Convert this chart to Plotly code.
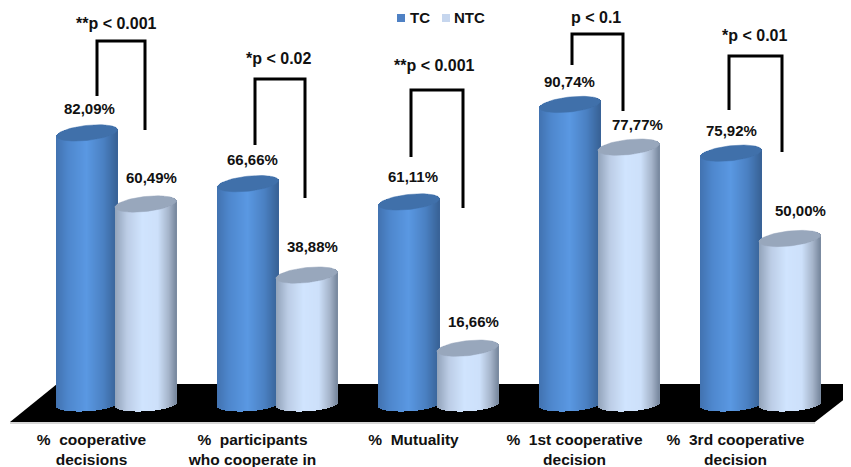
import numpy as np
import plotly.graph_objects as go

categories = ["%  cooperative<br>decisions", "%  participants<br>who cooperate in", "%  Mutuality",
              "%  1st cooperative<br>decision", "%  3rd cooperative<br>decision"]
tc_values = [82.09, 66.66, 61.11, 90.74, 75.92]
ntc_values = [60.49, 38.88, 16.66, 77.77, 50.00]
tc_labels = ["82,09%", "66,66%", "61,11%", "90,74%", "75,92%"]
ntc_labels = ["60,49%", "38,88%", "16,66%", "77,77%", "50,00%"]
p_labels = ["**p < 0.001", "*p < 0.02", "**p < 0.001", "p < 0.1", "*p < 0.01"]

# The page has an 8px body margin, so the figure fills the window from (8, 8)
PAGE = 8
WIN_W, WIN_H = 851, 467
W, H = WIN_W - PAGE, WIN_H - PAGE
PLOT_BOTTOM = 423
PX_PER_CAT = 161.0
X0 = 91.5
Y_ZERO = 404.5
PX_PER_UNIT = 3.29
FONT = "Liberation Sans"
x_range = [(PAGE - X0) / PX_PER_CAT, (WIN_W - X0) / PX_PER_CAT]
y_range = [(Y_ZERO - PLOT_BOTTOM) / PX_PER_UNIT, (Y_ZERO - PAGE) / PX_PER_UNIT]

HALF_W = 30.5
ELL_H = 7.5
TILT = 3.2
TOP_LIFT = 1.5


def lerp_colors(stops, t):
    ts = [s[0] for s in stops]
    out = [np.interp(t, ts, [s[1][k] for s in stops]) for k in range(3)]
    return "rgb(%d,%d,%d)" % tuple(int(round(v)) for v in out)


tc_stops = [(0, (66, 114, 176)), (0.2, (78, 135, 205)), (0.5, (90, 152, 226)), (0.78, (74, 128, 194)), (1, (56, 98, 150))]
ntc_stops = [(0, (146, 163, 186)), (0.2, (188, 205, 230)), (0.45, (208, 228, 254)), (0.7, (205, 224, 250)),
             (0.88, (165, 180, 202)), (1, (120, 136, 158))]
tc_top_stops = [(0, (70, 118, 178)), (0.5, (64, 112, 170)), (1, (56, 98, 150))]
ntc_top_stops = [(0, (160, 174, 194)), (0.5, (152, 167, 188)), (1, (138, 153, 174))]


def cylinder_traces(values, center_px, stops, top_stops, name):
    n = int(2 * HALF_W)
    xs, bases, ys, offs, cols = [], [], [], [], []
    tx, tb, ty, to, tc = [], [], [], [], []
    for i, v in enumerate(values):
        for k in range(n):
            left = -HALF_W + k
            t = max(-1, min(1, (left + 0.5) / HALF_W))
            s = np.sqrt(1 - t * t)
            bottom_px = ELL_H * 0.9 * s - TILT * 0.6 * t
            base = -bottom_px / PX_PER_UNIT
            mid = v + (TOP_LIFT + TILT * t) / PX_PER_UNIT
            xs.append(i)
            bases.append(base)
            ys.append(mid - base)
            offs.append((center_px + left) / PX_PER_CAT)
            cols.append(lerp_colors(stops, (k + 0.5) / n))
            half = (ELL_H - 0.6) * s / PX_PER_UNIT
            if half > 0.05:
                tx.append(i)
                tb.append(mid - half)
                ty.append(2 * half)
                to.append((center_px + left) / PX_PER_CAT)
                tc.append(lerp_colors(top_stops, (k + 0.5) / n))
    body = go.Bar(x=xs, y=ys, base=bases, width=[1.6 / PX_PER_CAT] * len(xs), offset=offs, name=name,
                  marker=dict(color=cols, line=dict(width=0)), showlegend=False, hoverinfo="skip")
    traces = [body]
    a = np.linspace(0, 2 * np.pi, 73)
    top_color = lerp_colors(top_stops, 0.5)
    for i, v in enumerate(values):
        ex = HALF_W * np.cos(a)
        ey = ELL_H * np.sin(a) + TILT * np.cos(a) + TOP_LIFT
        traces.append(go.Scatter(x=i + (center_px + ex) / PX_PER_CAT, y=v + ey / PX_PER_UNIT, mode="lines",
                                 fill="toself", fillcolor=top_color, line=dict(color=top_color, width=0.5),
                                 showlegend=False, hoverinfo="skip"))
    traces.append(go.Bar(x=tx, y=ty, base=tb, width=[1.6 / PX_PER_CAT] * len(tx), offset=to, name=name + " top",
                         marker=dict(color=tc, line=dict(width=0)), showlegend=False, hoverinfo="skip"))
    return traces


fig = go.Figure()
# Each series gets its own overlaying axes so NTC cylinders are drawn over TC cylinders
for t in cylinder_traces(tc_values, -4.5, tc_stops, tc_top_stops, "TC"):
    t.update(xaxis="x", yaxis="y")
    fig.add_trace(t)
for t in cylinder_traces(ntc_values, 54.0, ntc_stops, ntc_top_stops, "NTC"):
    t.update(xaxis="x2", yaxis="y2")
    fig.add_trace(t)


def px(x):
    return (x - PAGE) / W


def py(y):
    return (PLOT_BOTTOM - y) / (PLOT_BOTTOM - PAGE)


shapes = []
floor = [(10, 422), (57, 384), (851, 384), (851, 394), (815, 422)]
path = "M " + " L ".join(f"{px(a)},{py(b)}" for a, b in floor) + " Z"
shapes.append(dict(type="path", xref="paper", yref="paper", path=path, fillcolor="black",
                   line=dict(width=0), layer="below"))
shapes.append(dict(type="line", xref="paper", yref="paper", x0=px(10), x1=px(815), y0=py(423), y1=py(423),
                   line=dict(color="#c8c8c8", width=1.5), layer="below"))

brackets = [(97, 96, 41, 145, 130), (255, 145, 79, 305, 198), (411, 157, 90, 463, 208),
            (572, 65, 34, 623, 111), (729, 110, 56, 782, 152)]
for xl, yl, yt, xr, yr in brackets:
    pts = [(xl, yl), (xl, yt), (xr, yt), (xr, yr)]
    shapes.append(dict(type="path", xref="paper", yref="paper",
                       path="M " + " L ".join(f"{px(a)},{py(b)}" for a, b in pts),
                       line=dict(color="black", width=3), layer="above"))

for x0, col in [(397, "#4f81c4"), (442, "#c6d6ee")]:
    shapes.append(dict(type="rect", xref="paper", yref="paper", x0=px(x0), x1=px(x0 + 8), y0=py(22), y1=py(14),
                       fillcolor=col, line=dict(width=0)))

annotations = []
tc_dx = [-2.5, -0.5, -1, -5.5, -4.5]
ntc_dx = [59.5, 59.5, 59.5, 62.5, 64.5]
tc_dy = [26, 26, 26.5, 24, 24]
ntc_dy = [28, 30, 28, 24.6, 30]
label_font = dict(family=FONT, size=15, color="#111111")
for i in range(5):
    annotations.append(dict(x=i, y=tc_values[i], xref="x", yref="y", text=f"<b>{tc_labels[i]}</b>", showarrow=False,
                            xshift=tc_dx[i], yshift=tc_dy[i], font=label_font))
    annotations.append(dict(x=i, y=ntc_values[i], xref="x", yref="y", text=f"<b>{ntc_labels[i]}</b>", showarrow=False,
                            xshift=ntc_dx[i], yshift=ntc_dy[i], font=label_font))
p_pos = [(116, 23), (278, 58), (434, 65), (596, 17), (754, 35)]
for (ax, ay), s in zip(p_pos, p_labels):
    annotations.append(dict(x=px(ax), y=py(ay), xref="paper", yref="paper", text=f"<b>{s}</b>", showarrow=False,
                            font=dict(family=FONT, size=16, color="#111111"), xanchor="center", yanchor="middle"))
for lx, s in [(410, "TC"), (454, "NTC")]:
    annotations.append(dict(x=px(lx), y=py(17), xref="paper", yref="paper", text=f"<b>{s}</b>", showarrow=False,
                            font=label_font, xanchor="left", yanchor="middle", borderpad=0, xshift=-1))

fig.update_layout(
    width=W, height=H, margin=dict(l=0, r=0, t=0, b=WIN_H - PLOT_BOTTOM, pad=0, autoexpand=False),
    paper_bgcolor="white", plot_bgcolor="white", barmode="overlay", bargap=0,
    shapes=shapes, annotations=annotations, showlegend=False,
    font=dict(family=FONT, size=15, color="#111111"),
    xaxis=dict(range=x_range, tickmode="array", tickvals=list(range(5)), ticktext=[f"<b>{c}</b>" for c in categories],
               showgrid=False, zeroline=False, showline=False, ticks="outside", ticklen=2, automargin=False,
               tickcolor="rgba(0,0,0,0)", tickangle=0, tickfont=dict(family=FONT, size=15.5, color="#111111")),
    yaxis=dict(range=y_range, visible=False, showgrid=False, zeroline=False),
    xaxis2=dict(range=x_range, overlaying="x", visible=False, showgrid=False, zeroline=False),
    yaxis2=dict(range=y_range, overlaying="y", visible=False, showgrid=False, zeroline=False),
)
fig.write_html("out.html")
